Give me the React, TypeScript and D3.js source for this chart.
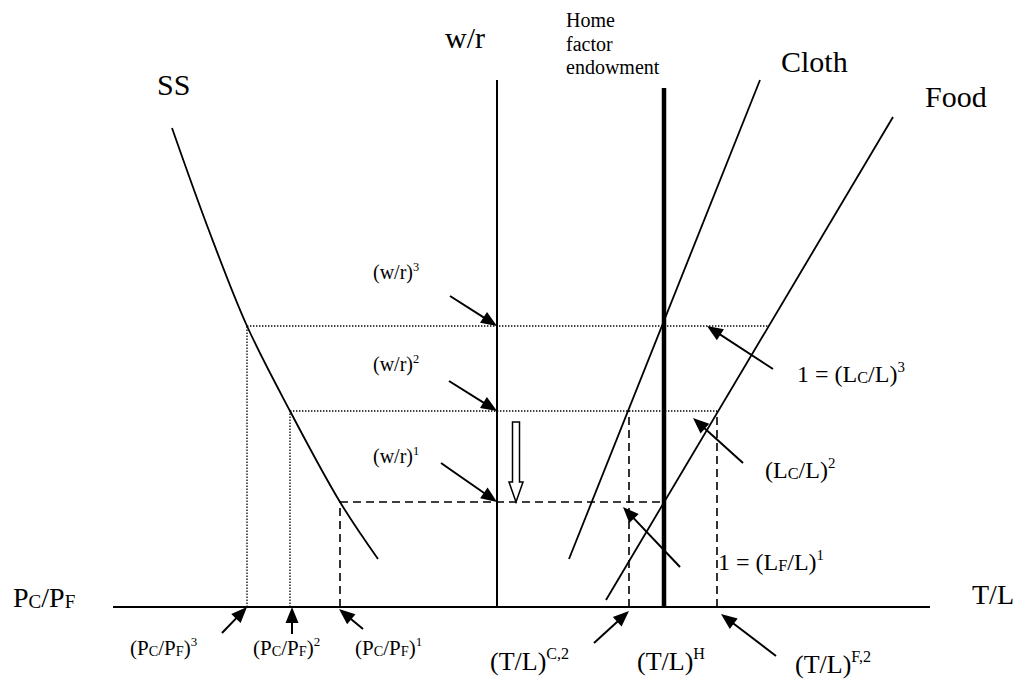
import * as React from 'react'
import { useEffect, useRef } from 'react'
import * as d3 from 'd3'

const WIDTH = 1021
const HEIGHT = 679
const FONT = '"Liberation Serif", "Times New Roman", serif'

// diagram units: origin where the w/r axis meets the horizontal axis
// wage-rental ratios (w/r)^1, (w/r)^2, (w/r)^3
const wageLevels = [2.1, 3.92, 5.62]
// relative prices (P_C/P_F)^1..3, read leftward from the origin
const priceLevels = [-3.14, -4.14, -5.0]
// land/labour ratios on the right-hand axis
const tlCloth2 = 2.64
const tlHome = 3.34
const tlFood2 = 4.4

// SS curve (relative supply)
const ssCurve: [number, number][] = [
  [-6.5, 9.58], [-5.78, 7.58], [-5.0, 5.62], [-4.14, 3.92], [-3.14, 2.1], [-2.38, 0.96],
]
const clothLine: [number, number][] = [[1.44, 0.96], [5.26, 10.54]]
const foodLine: [number, number][] = [[2.18, 0.14], [7.92, 9.8]]
const axisLeft = -7.68
const axisRight = 8.66
const wrAxisTop = 10.54
const endowTop = 10.38
const shiftArrow = { x: 0.38, from: 3.7 }

type Seg = [string, 'n' | 'sub' | 'sup']
const wrLabel = (n: string): Seg[] => [['(w/r)', 'n'], [n, 'sup']]
const pcLabel = (n: string): Seg[] => [['(P', 'n'], ['C', 'sub'], ['/P', 'n'], ['F', 'sub'], [')', 'n'], [n, 'sup']]
const tlLabel = (n: string): Seg[] => [['(T/L)', 'n'], [n, 'sup']]
const lLabel = (pre: string, s: string, n: string): Seg[] => [[pre + '(L', 'n'], [s, 'sub'], ['/L)', 'n'], [n, 'sup']]

function lineX(line: [number, number][], y: number) {
  const [[x0, y0], [x1, y1]] = line
  return x0 + (y - y0) * (x1 - x0) / (y1 - y0)
}

export default function App() {
  const svgRef = useRef<SVGSVGElement>(null)

  useEffect(() => {
    if (!svgRef.current) return
    const svg = d3.select(svgRef.current)
    svg.selectAll('*').remove()

    const x = d3.scaleLinear().domain([0, 1]).range([497, 547])
    const y = d3.scaleLinear().domain([0, 1]).range([607, 557])

    const g = svg.append('g')

    const seg = (x1: number, y1: number, x2: number, y2: number, w = 2, dash: string | null = null) => {
      const l = g.append('line')
        .attr('x1', x(x1)).attr('y1', y(y1))
        .attr('x2', x(x2)).attr('y2', y(y2))
        .attr('stroke', '#000')
        .attr('stroke-width', w)
      if (dash) l.attr('stroke-dasharray', dash)
      return l
    }

    const DOT = '1.4,1.6'
    const DASH = '8,5'

    // dotted / dashed guide lines
    seg(priceLevels[2], wageLevels[2], lineX(foodLine, wageLevels[2]), wageLevels[2], 1.3, DOT)
    seg(priceLevels[1], wageLevels[1], tlFood2, wageLevels[1], 1.3, DOT)
    seg(priceLevels[0], wageLevels[0], tlHome, wageLevels[0], 1.6, DASH)
    seg(priceLevels[2], 0, priceLevels[2], wageLevels[2], 1.3, DOT)
    seg(priceLevels[1], 0, priceLevels[1], wageLevels[1], 1.3, DOT)
    seg(priceLevels[0], 0, priceLevels[0], wageLevels[0], 1.6, DASH)
    seg(tlCloth2, 0, tlCloth2, wageLevels[1], 1.6, DASH)
    seg(tlFood2, 0, tlFood2, wageLevels[1], 1.6, DASH)

    // axes
    seg(axisLeft, 0, axisRight, 0, 2)
    seg(0, 0, 0, wrAxisTop, 2)
    seg(tlHome, 0, tlHome, endowTop, 4.5)

    // curves
    const lineGen = d3.line<[number, number]>()
      .x(d => x(d[0])).y(d => y(d[1]))
    g.append('path')
      .attr('d', lineGen.curve(d3.curveCatmullRom.alpha(0.5))(ssCurve))
      .attr('fill', 'none').attr('stroke', '#000').attr('stroke-width', 1.8)
    const straight = d3.line<[number, number]>().x(d => x(d[0])).y(d => y(d[1]))
    ;[clothLine, foodLine].forEach(l => {
      g.append('path').attr('d', straight(l))
        .attr('fill', 'none').attr('stroke', '#000').attr('stroke-width', 1.8)
    })

    // hollow arrow showing the fall in w/r
    {
      const cx = x(shiftArrow.x)
      const top = y(shiftArrow.from)
      const tip = y(wageLevels[0])
      const hl = 20, sw = 3.5, hw = 7
      const pts = [
        [cx - sw, top], [cx + sw, top], [cx + sw, tip - hl], [cx + hw, tip - hl],
        [cx, tip], [cx - hw, tip - hl], [cx - sw, tip - hl],
      ]
      g.append('polygon')
        .attr('points', pts.map(p => p.join(',')).join(' '))
        .attr('fill', '#fff').attr('stroke', '#000').attr('stroke-width', 1.5)
    }

    // text helper
    const label = (px: number, py: number, segs: Seg[], size: number) => {
      const t = g.append('text')
        .attr('x', px).attr('y', py)
        .attr('font-family', FONT).attr('font-size', size).attr('fill', '#000')
      let shift = 0
      segs.forEach(([s, kind]) => {
        const target = kind === 'sup' ? -0.42 * size : kind === 'sub' ? 0.05 * size : 0
        const fs = kind === 'sup' ? size * 0.62 : kind === 'sub' ? size * 0.68 : size
        t.append('tspan').attr('dy', target - shift).attr('font-size', fs).text(s)
        shift = target
      })
    }

    // arrows with filled heads
    const arrow = (tx: number, ty: number, tail: [number, number]) => {
      const sx = tx + tail[0], sy = ty + tail[1]
      const len = Math.hypot(tx - sx, ty - sy)
      const ux = (tx - sx) / len, uy = (ty - sy) / len
      const hl = 16, hw = 6.5
      const bx = tx - ux * hl, by = ty - uy * hl
      g.append('line')
        .attr('x1', sx).attr('y1', sy).attr('x2', bx + ux * 2).attr('y2', by + uy * 2)
        .attr('stroke', '#000').attr('stroke-width', 2)
      g.append('polygon')
        .attr('points', [
          [tx, ty], [bx - uy * hw, by + ux * hw], [bx + uy * hw, by - ux * hw],
        ].map(p => p.join(',')).join(' '))
        .attr('fill', '#000')
    }

    type Note = {
      at: [number, number]; tipOff?: [number, number]; tail?: [number, number]
      lab: Seg[]; lOff: [number, number]; size: number
    }
    const notes: Note[] = [
      { at: [0, wageLevels[2]], tail: [-47, -30], lab: wrLabel('3'), lOff: [-124, -47], size: 20 },
      { at: [0, wageLevels[1]], tail: [-48, -30], lab: wrLabel('2'), lOff: [-124, -40], size: 20 },
      { at: [0, wageLevels[0]], tail: [-56, -39], lab: wrLabel('1'), lOff: [-124, -39], size: 20 },
      { at: [priceLevels[2], 0], tail: [-25, 26], lab: pcLabel('3'), lOff: [-117, 48], size: 21 },
      { at: [priceLevels[1], 0], tipOff: [2, 0], tail: [0, 27], lab: pcLabel('2'), lOff: [-37, 48], size: 21 },
      { at: [priceLevels[0], 0], tipOff: [-1, 2], tail: [24, 20], lab: pcLabel('1'), lOff: [15, 48], size: 21 },
      { at: [tlCloth2, 0], tipOff: [0, 4], tail: [-35, 32], lab: tlLabel('C,2'), lOff: [-139, 63], size: 26 },
      { at: [tlHome, 0], lab: tlLabel('H'), lOff: [-27, 63], size: 26 },
      { at: [tlFood2, 0], tipOff: [4, 7], tail: [55, 42], lab: tlLabel('F,2'), lOff: [78, 66], size: 26 },
      { at: [4.2, wageLevels[2]], tail: [66, 43], lab: lLabel('1 = ', 'C', '3'), lOff: [90, 56], size: 24 },
      { at: [3.92, wageLevels[1]], tipOff: [0, 7], tail: [50, 45], lab: lLabel('', 'C', '2'), lOff: [72, 67], size: 24 },
      { at: [2.52, wageLevels[0]], tipOff: [0, 5], tail: [57, 60], lab: lLabel('1 = ', 'F', '1'), lOff: [95, 68], size: 24 },
    ]
    notes.forEach(n => {
      const px = x(n.at[0]), py = y(n.at[1])
      const tx = px + (n.tipOff ? n.tipOff[0] : 0)
      const ty = py + (n.tipOff ? n.tipOff[1] : 0)
      if (n.tail) arrow(tx, ty, n.tail)
      label(px + n.lOff[0], py + n.lOff[1], n.lab, n.size)
    })

    // axis and curve titles
    label(13, 607, [['P', 'n'], ['C', 'sub'], ['/P', 'n'], ['F', 'sub']], 28)
    label(972, 604, [['T/L', 'n']], 28)
    label(445, 48, [['w/r', 'n']], 30)
    label(157, 95, [['SS', 'n']], 30)
    label(781, 72, [['Cloth', 'n']], 30)
    label(925, 107, [['Food', 'n']], 30)
    ;['Home', 'factor', 'endowment'].forEach((w, i) => {
      label(566, 27 + i * 23.5, [[w, 'n']], 20)
    })
  }, [])

  return (
    <svg
      ref={svgRef}
      width={WIDTH}
      height={HEIGHT}
      style={{ position: 'absolute', left: 0, top: 0, background: '#fff' }}
    />
  )
}
